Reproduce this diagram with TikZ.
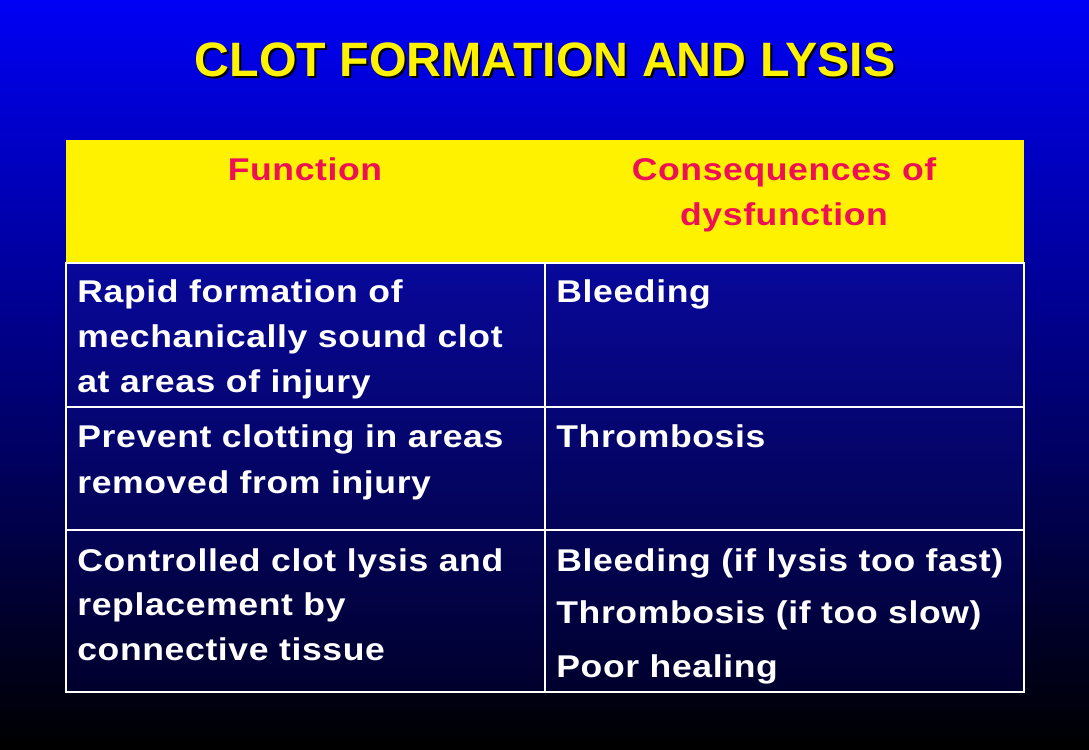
\documentclass[tikz,border=0pt]{standalone}
\usepackage{fontspec}
\setmainfont{Liberation Sans}
\newfontfamily\cellfont[FakeStretch=1.13,LetterSpace=2]{Liberation Sans}
\usepackage{xcolor}

\definecolor{slideblue}{RGB}{0,0,245}
\definecolor{cellblue}{RGB}{8,8,155}
\definecolor{celldark}{RGB}{0,0,45}
\definecolor{headred}{RGB}{238,16,86}

\tikzset{
	titletext/.style={anchor=base, inner sep=0pt, font=\fontsize{27.5}{33}\selectfont\bfseries},
	headtext/.style={anchor=base, inner sep=0pt, headred, font=\cellfont\fontsize{17.9}{22}\selectfont\bfseries},
	bodytext/.style={anchor=base west, inner sep=0pt, white, font=\cellfont\fontsize{17.9}{22}\selectfont\bfseries},
	cellline/.style={white, line width=1.6pt},
}

\begin{document}
\begin{tikzpicture}[x=0.02cm,y=-0.02cm]
		\shade[top color=slideblue, bottom color=black] (0,0) rectangle (1089,750);% slide background
		\useasboundingbox (0,0) rectangle (1089,750);

		\coordinate (HeadTL) at (66,140);
		\coordinate (HeadBR) at (1024,263);
		\coordinate (BodyTL) at (66,263);
		\coordinate (BodyBR) at (1024,692);
		\coordinate (MidTop) at (545,263);
		\coordinate (MidBot) at (545,692);

		\node[titletext, black] (titleshadow) at (547,79) {CLOT FORMATION AND LYSIS};
		\node[titletext, yellow] (title) at (545,77) {CLOT FORMATION AND LYSIS};

		\fill[yellow] (HeadTL) rectangle (HeadBR);% header row
		\shade[top color=cellblue, bottom color=celldark] (BodyTL) rectangle (BodyBR);
		\draw[cellline] (BodyTL) rectangle (BodyBR);
		\draw[cellline] (MidTop) -- (MidBot);
		\foreach \y in {407,530}{% row separators
			\draw[cellline] (66,\y) -- (1024,\y);
		}

		\node[headtext] (function) at (305,180) {Function};
		\node[headtext] (conseq) at (784,180) {Consequences of};
		\node[headtext] (dysf) at (784,225) {dysfunction};

		\foreach \y/\t [count=\i] in {302/Rapid formation of, 347/mechanically sound clot, 392/at areas of injury,
			447/Prevent clotting in areas, 493/removed from injury,
			571/Controlled clot lysis and, 615/replacement by, 660/connective tissue}{% left column lines
			\node[bodytext] (fn\i) at (77,\y) {\t};
		}
		\foreach \y/\t [count=\i] in {302/Bleeding, 447/Thrombosis, 571/Bleeding (if lysis too fast),
			623/Thrombosis (if too slow), 677/Poor healing}{% right column lines
			\node[bodytext] (cq\i) at (556,\y) {\t};
		}
\end{tikzpicture}
\end{document}
